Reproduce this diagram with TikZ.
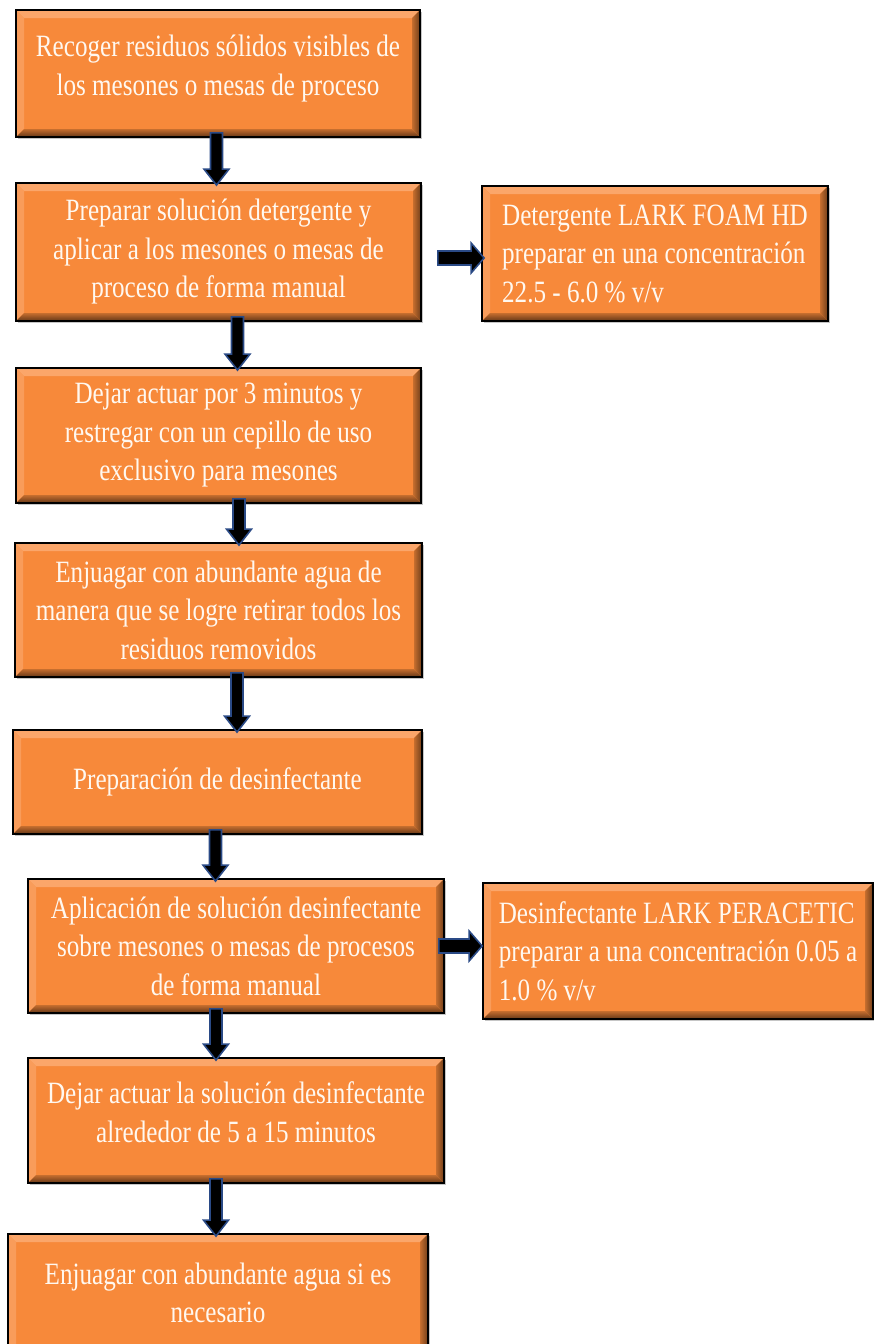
\documentclass[tikz,border=0pt]{standalone}
\usepackage{fontspec}
\setmainfont{Liberation Serif}[FakeStretch=0.81]
\usetikzlibrary{calc,shadows}
\definecolor{boxor}{HTML}{F7893A}
\definecolor{bevtop}{HTML}{FBA66A}
\definecolor{bevleft}{HTML}{F99C5A}
\definecolor{arrblue}{HTML}{2A4A86}
\definecolor{txtcol}{HTML}{FFF8F0}
\newcommand\varrow[3]{% x, from, to
  \path[flowarrow] let \p1=(#2.south), \p2=(#3.north) in
    (#1pt-6pt,\y1+5pt) -- (#1pt+6pt,\y1+5pt) -- (#1pt+6pt,\y2+13pt)
    -- (#1pt+12.5pt,\y2+13pt) -- (#1pt,\y2-3pt) -- (#1pt-12.5pt,\y2+13pt)
    -- (#1pt-6pt,\y2+13pt) -- cycle;}
\newcommand\harrow[5]{% y, from, to, start offset, tip offset
  \path[flowarrow] let \p1=(#2.east), \p2=(#3.west) in
    (\x1+#4pt,-#1pt+7pt) -- (\x2+#5pt-13pt,-#1pt+7pt) -- (\x2+#5pt-13pt,-#1pt+15pt)
    -- (\x2+#5pt,-#1pt) -- (\x2+#5pt-13pt,-#1pt-15pt) -- (\x2+#5pt-13pt,-#1pt-7pt)
    -- (\x1+#4pt,-#1pt-7pt) -- cycle;}
\tikzset{
  box/.style={draw=black, line width=1.8pt, fill=boxor, text=txtcol,
    align=center, inner sep=0pt,
    font=\fontsize{31}{38.5}\selectfont,
    drop shadow={shadow xshift=1.5pt, shadow yshift=-1.5pt, opacity=0.45, fill=gray},
    path picture={
      \coordinate (nw) at (path picture bounding box.north west);
      \coordinate (ne) at (path picture bounding box.north east);
      \coordinate (sw) at (path picture bounding box.south west);
      \coordinate (se) at (path picture bounding box.south east);
      \fill[bevtop] (nw) -- (ne) -- ([shift={(-8pt,-8pt)}]ne) -- ([shift={(8pt,-8pt)}]nw) -- cycle;
      \fill[bevleft] (nw) -- ([shift={(8pt,-8pt)}]nw) -- ([shift={(8pt,8pt)}]sw) -- (sw) -- cycle;
      \shade[top color=boxor!80!black, bottom color=boxor!40!black]
        (sw) -- ([shift={(8pt,8pt)}]sw) -- ([shift={(-8pt,8pt)}]se) -- (se) -- cycle;
      \shade[left color=boxor!80!black, right color=boxor!45!black]
        (se) -- ([shift={(-8pt,8pt)}]se) -- ([shift={(-8pt,-8pt)}]ne) -- (ne) -- cycle;
    }},
  sidebox/.style={box, align=left},
  flowarrow/.style={fill=black, draw=arrblue, line width=1.6pt, line join=miter}
}
\begin{document}
\begin{tikzpicture}[x=1pt,y=-1pt]
\useasboundingbox (0,0) rectangle (874,1344);
\node[box, minimum width=404pt, minimum height=127pt] (b1) at (218,73.5)
  {Recoger residuos sólidos visibles de\\los mesones o mesas de proceso\\[-22pt]};
\node[box, minimum width=405pt, minimum height=138pt] (b2) at (218.5,252)
  {Preparar solución detergente y\\aplicar a los mesones o mesas de\\proceso de forma manual};
\node[sidebox, minimum width=346pt, minimum height=135pt] (b3) at (655,253.5)
  {Detergente LARK FOAM HD\\preparar en una concentración\\22.5 - 6.0 \% v/v};
\node[box, minimum width=405pt, minimum height=135pt] (b4) at (218.5,435.5)
  {Dejar actuar por 3 minutos y\\restregar con un cepillo de uso\\exclusivo para mesones};
\node[box, minimum width=407pt, minimum height=134pt] (b5) at (218.5,610)
  {Enjuagar con abundante agua de\\manera que se logre retirar todos los\\residuos removidos};
\node[box, minimum width=409pt, minimum height=104pt] (b6) at (217.5,782)
  {Preparación de desinfectante};
\node[box, minimum width=416pt, minimum height=134pt] (b7) at (236,946)
  {Aplicación de solución desinfectante\\sobre mesones o mesas de procesos\\de forma manual};
\node[sidebox, minimum width=390pt, minimum height=136pt] (b8) at (678,951)
  {Desinfectante LARK PERACETIC\\preparar a una concentración 0.05 a\\1.0 \% v/v};
\node[box, minimum width=416pt, minimum height=125pt] (b9) at (236,1120.5)
  {Dejar actuar la solución desinfectante\\alrededor de 5 a 15 minutos\\[-22pt]};
\node[box, minimum width=420pt, minimum height=118pt] (b10) at (218,1293)
  {Enjuagar con abundante agua si es\\necesario};
\varrow{216.5}{b1}{b2}
\varrow{237.5}{b2}{b4}
\varrow{239}{b4}{b5}
\varrow{237}{b5}{b6}
\varrow{215.5}{b6}{b7}
\varrow{216}{b7}{b9}
\varrow{216}{b9}{b10}
\harrow{258}{b2}{b3}{16}{3}
\harrow{946}{b7}{b8}{-6}{0}
\end{tikzpicture}
\end{document}
